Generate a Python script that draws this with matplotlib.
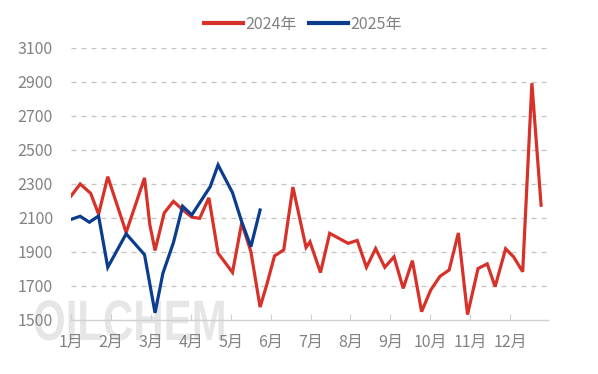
import matplotlib
matplotlib.use("Agg")
import matplotlib.pyplot as plt
from matplotlib.textpath import TextPath
from matplotlib.patches import PathPatch
from matplotlib.font_manager import FontProperties
from matplotlib.transforms import Affine2D

# ============================================================
#   DATOS (día del año aprox., valor semanal)
# ============================================================
days_2024 = [0, 7, 15, 21, 28, 42, 56, 60, 64, 71, 78, 86, 92, 98, 105, 112,
             123, 130, 137, 144, 149, 155, 162, 169, 179, 182, 190, 197, 211,
             218, 225, 232, 239, 246, 253, 260, 267, 274, 281, 288, 295, 302,
             310, 317, 323, 331, 337, 344, 351, 358]
vals_2024 = [2229, 2300, 2245, 2122, 2343, 2015, 2336, 2062, 1909, 2130, 2198,
             2142, 2105, 2098, 2219, 1893, 1780, 2071, 1902, 1576, 1705, 1877,
             1912, 2282, 1927, 1960, 1779, 2010, 1951, 1968, 1810, 1920, 1810,
             1872, 1686, 1849, 1549, 1677, 1757, 1794, 2012, 1532, 1803, 1830,
             1696, 1919, 1872, 1784, 2893, 2175]

days_2025 = [0, 7, 14, 21, 28, 42, 56, 64, 70, 78, 85, 92, 106, 112, 123, 130,
             137, 144]
vals_2025 = [2092, 2110, 2075, 2112, 1810, 2007, 1884, 1542, 1775, 1955, 2169,
             2118, 2284, 2412, 2249, 2078, 1931, 2147]

months = ["1月", "2月", "3月", "4月", "5月", "6月", "7月", "8月", "9月",
          "10月", "11月", "12月"]
yticks = [1500, 1700, 1900, 2100, 2300, 2500, 2700, 2900, 3100]

# ============================================================
#  ESTILO
# ============================================================
plt.rcParams['font.family'] = ['Noto Sans CJK SC', 'DejaVu Sans']
GRAY = '#828282'
RED = '#d7322a'
BLUE = '#0b3c8d'

fig = plt.figure(figsize=(5.98, 3.74), dpi=100)
ax = fig.add_axes([71 / 598, 54 / 374, (548.3 - 71) / 598, 272 / 374])
ax.set_zorder(2)

# marca de agua (texto estrecho, comprimido en x), detrás de los ejes
wm = TextPath((0, 0), "OILCHEM", size=1,
              prop=FontProperties(family='Liberation Sans', weight='bold'))
wm_tr = Affine2D().scale(42, 57).translate(33, 34)
fig.patches.append(PathPatch(wm, transform=wm_tr, facecolor='#d9d9d9',
                             edgecolor='none', alpha=0.65, zorder=-1))

ax.plot(days_2024, vals_2024, color=RED, linewidth=2.3, label='2024年',
        solid_joinstyle='miter', zorder=3)
ax.plot(days_2025, vals_2025, color=BLUE, linewidth=2.3, label='2025年',
        solid_joinstyle='miter', zorder=4)

ax.set_xlim(0, 363.5)
ax.set_ylim(1500, 3100)
ax.set_yticks(yticks)
ax.set_yticklabels([str(v) for v in yticks])
month_pos = [i * 30.4 for i in range(len(months))]
ax.set_xticks(month_pos)
ax.set_xticklabels(months)

for v in yticks[1:]:
    ax.axhline(v, color='#c4c4c4', linewidth=0.9, linestyle=(0, (4, 4)),
               zorder=1)

for s in ['top', 'right', 'left']:
    ax.spines[s].set_visible(False)
ax.spines['bottom'].set_color('#d0d0d0')
ax.spines['bottom'].set_linewidth(1.0)

ax.tick_params(axis='y', length=0, pad=13, labelsize=11.5, labelcolor=GRAY)
ax.tick_params(axis='x', direction='in', length=4, color='#d0d0d0',
               pad=10, labelsize=11.5, labelcolor=GRAY)
ax.set_facecolor('none')

leg = fig.legend(loc='center', bbox_to_anchor=(303 / 598, 1 - 24 / 374),
                 ncol=2, frameon=False, fontsize=11.5, handlelength=2.4,
                 handletextpad=0.15, columnspacing=0.8)
for t in leg.get_texts():
    t.set_color(GRAY)
for h in leg.get_lines():
    h.set_linewidth(3)

plt.savefig("out.png", dpi=100)
